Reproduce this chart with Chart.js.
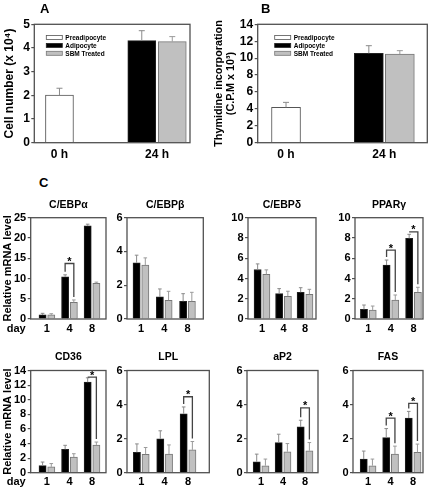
<!DOCTYPE html>
<html><head><meta charset="utf-8">
<script src="https://cdn.jsdelivr.net/npm/chart.js@4.4.1/dist/chart.umd.min.js"></script>
<style>
html,body{margin:0;padding:0;background:#fff;}
#fig{position:relative;width:430px;height:492px;overflow:hidden;font-family:'Liberation Sans',Arial,sans-serif;}
.pn{position:absolute;}
.pn canvas{display:block;}
.lt{position:absolute;font-weight:bold;font-size:13px;line-height:13px;color:#000;}
</style></head><body>
<div id="fig"></div>
<script>
// ================= DATA =================
// Panels A and B
const timePoints = ['0 h', '24 h'];
const groupNames = ['Preadipocyte', 'Adipocyte', 'SBM Treated'];
const cellPre = [2.01, null];
const cellPreErr = [0.29, null];
const cellAdi = [null, 4.31];
const cellAdiErr = [null, 0.42];
const cellSbm = [null, 4.27];
const cellSbmErr = [null, 0.21];
const thyPre = [4.18, null];
const thyPreErr = [0.59, null];
const thyAdi = [null, 10.57];
const thyAdiErr = [null, 0.90];
const thySbm = [null, 10.49];
const thySbmErr = [null, 0.39];
const cellTicks = {max: 5, step: 1};
const thyTicks = {max: 14, step: 2};

// Panel C (black = Adipocyte, gray = SBM Treated)
const days = ['1', '4', '8'];
const geneNames = ['C/EBPα', 'C/EBPβ', 'C/EBPδ', 'PPARγ', 'CD36', 'LPL', 'aP2', 'FAS'];
const cebpaAdi = [1.0, 10.4, 23.0],  cebpaAdiErr = [0.4, 0.5, 0.4];
const cebpaSbm = [1.0, 4.1, 8.8],    cebpaSbmErr = [0.3, 0.6, 0.3];
const cebpbAdi = [3.33, 1.31, 1.05], cebpbAdiErr = [0.45, 0.47, 0.45];
const cebpbSbm = [3.20, 1.11, 1.05], cebpbSbmErr = [0.42, 0.53, 0.53];
const cebpdAdi = [4.89, 2.50, 2.64], cebpdAdiErr = [0.55, 0.50, 0.45];
const cebpdSbm = [4.40, 2.25, 2.44], cebpdSbmErr = [0.45, 0.49, 0.49];
const ppargAdi = [0.95, 5.33, 7.96], ppargAdiErr = [0.43, 0.49, 0.40];
const ppargSbm = [0.89, 1.88, 2.63], ppargSbmErr = [0.39, 0.49, 0.50];
const cd36Adi = [0.96, 3.20, 12.4],  cd36AdiErr = [0.50, 0.55, 0.60];
const cd36Sbm = [0.80, 2.15, 3.80],  cd36SbmErr = [0.45, 0.45, 0.40];
const lplAdi = [1.20, 1.99, 3.46],   lplAdiErr = [0.49, 0.47, 0.40];
const lplSbm = [1.08, 1.10, 1.34],   lplSbmErr = [0.40, 0.53, 0.49];
const ap2Adi = [0.64, 1.77, 2.69],   ap2AdiErr = [0.45, 0.49, 0.39];
const ap2Sbm = [0.41, 1.23, 1.29],   ap2SbmErr = [0.39, 0.48, 0.48];
const fasAdi = [0.80, 2.06, 3.21],   fasAdiErr = [0.47, 0.53, 0.39];
const fasSbm = [0.41, 1.09, 1.19],   fasSbmErr = [0.39, 0.47, 0.49];
// y-axis tick ranges per gene
const geneYMax  = [25, 6, 10, 10, 14, 6, 6, 6];
const geneYStep = [5, 2, 2, 2, 2, 2, 2, 2];
// significance brackets (day index, bracket height)
const cebpaSig = [1], cebpaSigTop = [13.7];
const ppargSig = [1, 2], ppargSigTop = [6.8, 8.6];
const cd36Sig = [2], cd36SigTop = [13.1];
const lplSig = [2], lplSigTop = [4.46];
const ap2Sig = [2], ap2SigTop = [3.8];
const fasSig = [1, 2], fasSigTop = [3.2, 4.07];
const yTitleA = 'Cell number (x 10⁴)';
const yTitleB = ['Thymidine incorporation', '(C.P.M x 10³)'];
const yTitleC = 'Relative mRNA level';
const dayWord = 'day';

// ================= STYLE =================
const FONT = "'Liberation Sans', Arial, sans-serif";
Chart.defaults.font.family = FONT;
Chart.defaults.font.weight = 'bold';
Chart.defaults.color = '#000';
const FRAME = '#505050';
const COL = {
  pre: {bg: '#ffffff', bd: '#555555', err: '#8a8a8a'},
  adi: {bg: '#000000', bd: '#222222', err: '#8a8a8a'},
  sbm: {bg: '#c0c0c0', bd: '#777777', err: '#9a9a9a'}
};

const deco = {
  id: 'deco',
  afterDatasetsDraw(chart, args, o) {
    const ctx = chart.ctx, ys = chart.scales.y;
    ctx.save();
    chart.data.datasets.forEach((ds, i) => {
      const meta = chart.getDatasetMeta(i);
      ctx.strokeStyle = ds.errColor; ctx.lineWidth = 1;
      meta.data.forEach((bar, j) => {
        const v = ds.data[j].y;
        if (v == null || ds.errors[j] == null) return;
        const yt = ys.getPixelForValue(v + ds.errors[j]);
        ctx.beginPath();
        ctx.moveTo(bar.x, bar.y); ctx.lineTo(bar.x, yt);
        ctx.moveTo(bar.x - o.cap, yt); ctx.lineTo(bar.x + o.cap, yt);
        ctx.stroke();
      });
    });
    if (o.sig) {
      const d0 = chart.data.datasets[0], d1 = chart.data.datasets[1];
      ctx.strokeStyle = '#444'; ctx.lineWidth = 1.3; ctx.fillStyle = '#000';
      ctx.font = 'bold 11px ' + FONT; ctx.textAlign = 'center'; ctx.textBaseline = 'alphabetic';
      o.sig.forEach((k, n) => {
        const b0 = chart.getDatasetMeta(0).data[k], b1 = chart.getDatasetMeta(1).data[k];
        const yT = ys.getPixelForValue(o.sigTop[n]);
        const y0 = ys.getPixelForValue(d0.data[k].y + d0.errors[k]) - 3;
        const y1 = ys.getPixelForValue(d1.data[k].y + d1.errors[k]) - 3;
        ctx.beginPath();
        ctx.moveTo(b0.x, Math.max(y0, yT)); ctx.lineTo(b0.x, yT);
        ctx.lineTo(b1.x, yT); ctx.lineTo(b1.x, Math.max(y1, yT));
        ctx.stroke();
        ctx.fillText('*', (b0.x + b1.x) / 2, yT + 1.5);
      });
    }
    ctx.restore();
  },
  afterDraw(chart, args, o) {
    const ctx = chart.ctx, ca = chart.chartArea;
    ctx.save();
    ctx.strokeStyle = FRAME; ctx.lineWidth = 1.3;
    ctx.strokeRect(ca.left, ca.top, ca.right - ca.left, ca.bottom - ca.top);
    ctx.fillStyle = '#000';
    if (o.title) {
      ctx.font = 'bold 10.5px ' + FONT; ctx.textAlign = 'center'; ctx.textBaseline = 'middle';
      ctx.fillText(o.title, (ca.left + ca.right) / 2, ca.top - o.titleGap);
    }
    if (o.day) {
      ctx.font = 'bold 11px ' + FONT; ctx.textAlign = 'right'; ctx.textBaseline = 'middle';
      ctx.fillText(o.day, ca.left - 5, ca.bottom + 9.6);
    }
    if (o.legend) {
      ctx.font = 'bold 6.5px ' + FONT; ctx.textAlign = 'left'; ctx.textBaseline = 'middle';
      chart.data.datasets.forEach((ds, i) => {
        const x = ca.left + o.legend.dx, y = ca.top + o.legend.rows[i];
        ctx.fillStyle = ds.backgroundColor; ctx.fillRect(x, y - 2, 16, 4);
        ctx.strokeStyle = ds.borderColor; ctx.lineWidth = 0.8; ctx.strokeRect(x, y - 2, 16, 4);
        ctx.fillStyle = '#000'; ctx.fillText(ds.label, x + 19, y + 0.5);
      });
    }
    ctx.restore();
  }
};

function mkDs(label, vals, errs, c, thick, maxThick) {
  return {
    label, data: vals.map((v, i) => ({x: i, y: v})), errors: errs, errColor: c.err,
    backgroundColor: c.bg, borderColor: c.bd, borderWidth: 1, borderSkipped: 'start',
    barThickness: thick, maxBarThickness: maxThick, skipNull: true
  };
}

function place(plot, opt) {
  const divL = Math.floor(opt.divLeft != null ? opt.divLeft : plot[0] - 24);
  const divT = Math.floor(plot[1] - opt.topSpace);
  const divW = Math.ceil(plot[2] + 4 - divL);
  const divH = Math.ceil(plot[3] + opt.xh + 1 - divT);
  return {divL, divT, divW, divH,
    pad: {left: 0, top: plot[1] - divT, right: divL + divW - plot[2], bottom: divH - opt.xh - (plot[3] - divT)},
    yw: plot[0] - divL};
}

function build(plot, opt) {
  const P = place(plot, opt);
  const div = document.createElement('div');
  div.className = 'pn';
  Object.assign(div.style, {left: P.divL + 'px', top: P.divT + 'px', width: P.divW + 'px', height: P.divH + 'px'});
  const cv = document.createElement('canvas');
  div.appendChild(cv);
  document.getElementById('fig').appendChild(div);
  const yTitle = opt.yTitle ? {display: true, text: opt.yTitle, font: {size: opt.yTitleSize, weight: 'bold', lineHeight: opt.yTitleLH}, padding: {top: opt.yTitlePad, bottom: 0}, color: '#000'} : {display: false};
  return new Chart(cv, {
    type: 'bar',
    data: {datasets: opt.datasets},
    options: {
      responsive: true, maintainAspectRatio: false, animation: false, devicePixelRatio: 1,
      layout: {padding: P.pad},
      plugins: {legend: {display: false}, tooltip: {enabled: false}, title: {display: false}, deco: opt.deco},
      scales: {
        x: {
          type: 'linear', min: opt.xMin, max: opt.xMax, offset: false,
          afterBuildTicks: s => { s.ticks = opt.xLabels.map((_, i) => ({value: i})); },
          afterFit: s => { s.height = opt.xh; },
          grid: {display: false, drawTicks: false}, border: {display: false},
          ticks: {font: {size: opt.xFont, weight: 'bold', lineHeight: 1.2}, padding: opt.xPad, autoSkip: false, maxRotation: 0,
            callback: v => opt.xLabels[v]}
        },
        y: {
          min: 0, max: opt.yMax,
          afterFit: s => { s.width = P.yw; },
          ticks: {stepSize: opt.yStep, autoSkip: false, font: {size: opt.yFont, weight: 'bold', lineHeight: 1.0}, padding: 1.5},
          grid: {display: true, drawOnChartArea: false, drawTicks: true, tickLength: 3, color: FRAME, lineWidth: 1.2},
          border: {display: false},
          title: yTitle
        }
      }
    },
    plugins: [deco]
  });
}

// ---- Panel A ----
build([34.3, 24.3, 190, 142.7], {
  divLeft: 0, topSpace: 20, xh: 22, xFont: 12, xPad: 4.5, yFont: 12,
  xMin: -0.258, xMax: 1.338, xLabels: timePoints, yMax: cellTicks.max, yStep: cellTicks.step,
  yTitle: yTitleA, yTitleSize: 12, yTitleLH: 1.2, yTitlePad: 2.5,
  datasets: [
    mkDs(groupNames[0], cellPre, cellPreErr, COL.pre, 30.5, 28),
    mkDs(groupNames[1], cellAdi, cellAdiErr, COL.adi, 30.5, 28),
    mkDs(groupNames[2], cellSbm, cellSbmErr, COL.sbm, 30.5, 28)
  ],
  deco: {cap: 3, legend: {dx: 12, rows: [13.2, 21.1, 29.0]}}
});

// ---- Panel B ----
build([257.7, 24.3, 427.3, 142.7], {
  divLeft: 213, topSpace: 20, xh: 22, xFont: 12, xPad: 4.5, yFont: 12,
  xMin: -0.288, xMax: 1.437, xLabels: timePoints, yMax: thyTicks.max, yStep: thyTicks.step,
  yTitle: yTitleB, yTitleSize: 10.8, yTitleLH: 1.12, yTitlePad: 0,
  datasets: [
    mkDs(groupNames[0], thyPre, thyPreErr, COL.pre, 31, 29),
    mkDs(groupNames[1], thyAdi, thyAdiErr, COL.adi, 31, 29),
    mkDs(groupNames[2], thySbm, thySbmErr, COL.sbm, 31, 29)
  ],
  deco: {cap: 3, legend: {dx: 17, rows: [13.2, 21.1, 29.0]}}
});

// ---- Panel C ----
const geneData = [
  [cebpaAdi, cebpaAdiErr, cebpaSbm, cebpaSbmErr, cebpaSig, cebpaSigTop],
  [cebpbAdi, cebpbAdiErr, cebpbSbm, cebpbSbmErr, null, null],
  [cebpdAdi, cebpdAdiErr, cebpdSbm, cebpdSbmErr, null, null],
  [ppargAdi, ppargAdiErr, ppargSbm, ppargSbmErr, ppargSig, ppargSigTop],
  [cd36Adi, cd36AdiErr, cd36Sbm, cd36SbmErr, cd36Sig, cd36SigTop],
  [lplAdi, lplAdiErr, lplSbm, lplSbmErr, lplSig, lplSigTop],
  [ap2Adi, ap2AdiErr, ap2Sbm, ap2SbmErr, ap2Sig, ap2SigTop],
  [fasAdi, fasAdiErr, fasSbm, fasSbmErr, fasSig, fasSigTop]
];
const rowBox = [{t: 217.7, b: 319, gap: 12.8}, {t: 370.5, b: 472.7, gap: 13}];
const cLayout = [
  {l: 30.7, r: 106,   row: 0, xMin: -0.72, xMax: 2.62, first: true},
  {l: 127,  r: 203.3, row: 0, xMin: -0.60, xMax: 2.68},
  {l: 248,  r: 316,   row: 0, xMin: -0.65, xMax: 2.51},
  {l: 355,  r: 423,   row: 0, xMin: -0.59, xMax: 2.42},
  {l: 30.7, r: 106,   row: 1, xMin: -0.72, xMax: 2.62, first: true},
  {l: 127,  r: 209.3, row: 1, xMin: -0.61, xMax: 2.91},
  {l: 247,  r: 318,   row: 1, xMin: -0.64, xMax: 2.59},
  {l: 353,  r: 423,   row: 1, xMin: -0.67, xMax: 2.44}
];
geneNames.forEach((g, i) => {
  const L = cLayout[i], R = rowBox[L.row], D = geneData[i];
  build([L.l, R.t, L.r, R.b], {
    divLeft: L.first ? 0 : null, topSpace: 24, xh: 16, xFont: 11, xPad: 3, yFont: 11,
    xMin: L.xMin, xMax: L.xMax, xLabels: days, yMax: geneYMax[i], yStep: geneYStep[i],
    yTitle: L.first ? yTitleC : null, yTitleSize: 11, yTitleLH: 1.2, yTitlePad: 1.4,
    datasets: [
      mkDs(groupNames[1], D[0], D[1], COL.adi, 8.7, 7.2),
      mkDs(groupNames[2], D[2], D[3], COL.sbm, 8.7, 7.2)
    ],
    deco: {cap: 1.8, title: g, titleGap: R.gap, day: L.first ? dayWord : null, sig: D[4], sigTop: D[5]}
  });
});

// panel letters
[['A', 40, 2], ['B', 261, 2], ['C', 39, 176]].forEach(([t, x, y]) => {
  const d = document.createElement('div');
  d.className = 'lt'; d.textContent = t;
  d.style.left = x + 'px'; d.style.top = y + 'px';
  document.getElementById('fig').appendChild(d);
});
</script>
</body></html>
